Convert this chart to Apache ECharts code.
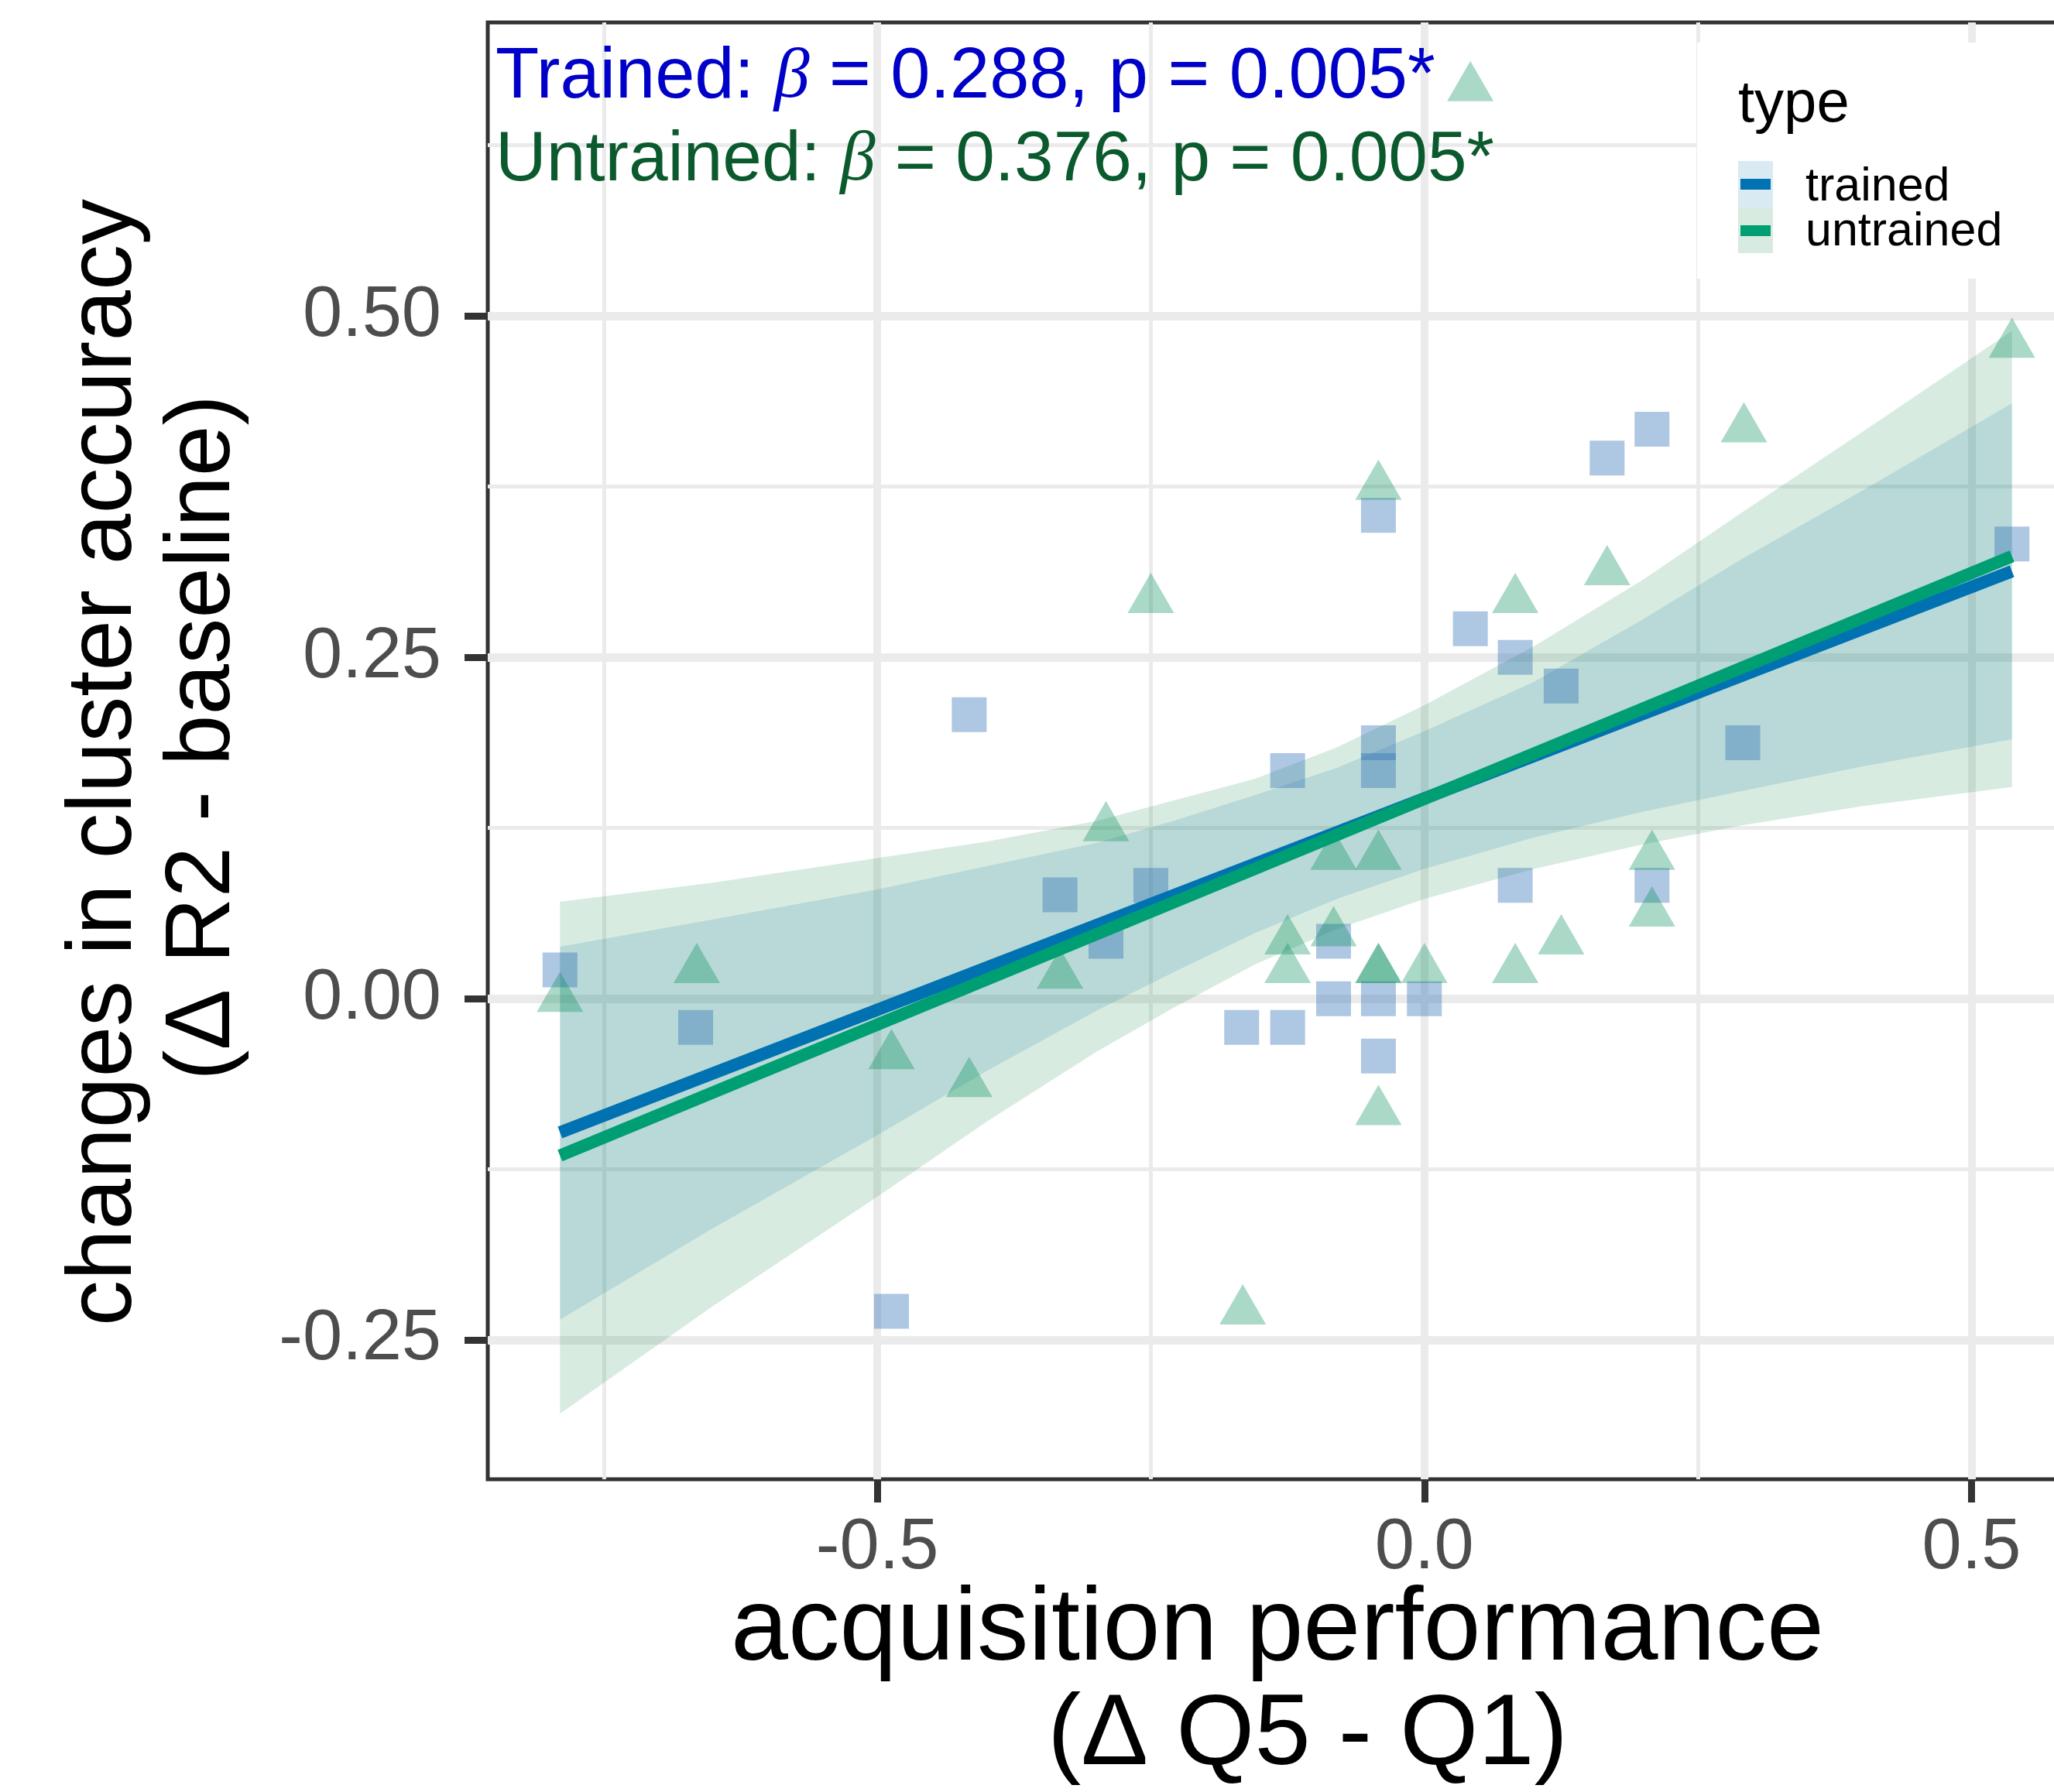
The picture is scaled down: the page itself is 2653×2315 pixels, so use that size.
<!DOCTYPE html>
<html>
<head>
<meta charset="utf-8">
<title>cluster accuracy vs acquisition performance</title>
<script src="https://cdn.jsdelivr.net/npm/echarts@6/dist/echarts.min.js"></script>
<style>
    html, body { margin: 0; padding: 0; background: #ffffff; }
    #chart_main { width: 2653px; height: 2315px; }
</style>
</head>
<body>
<div id="chart_main"></div>
<script>
// axis ranges and ticks
var xRange = [-0.856, 0.603];
var yRange = [-0.352, 0.715];
var xMajor = [-0.5, 0, 0.5];
var xMinor = [-0.75, -0.25, 0.25];
var yMajor = [-0.25, 0, 0.25, 0.5];
var yMinor = [-0.125, 0.125, 0.375, 0.625];

// trained (squares)
var trainedX = [-0.790, -0.666, -0.487, -0.416, -0.333, -0.291, -0.250, -0.167, -0.125, -0.125,
                -0.083, -0.083, -0.042, -0.042, -0.042, -0.042, -0.042, 0.000, 0.042, 0.083,
                0.083, 0.125, 0.167, 0.208, 0.208, 0.291, 0.537];
var trainedY = [0.021, -0.021, -0.229, 0.208, 0.076, 0.042, 0.083, -0.021, -0.021, 0.167,
                0.042, 0.000, 0.354, 0.1875, 0.167, 0.000, -0.042, 0.000, 0.271, 0.250,
                0.083, 0.229, 0.396, 0.417, 0.083, 0.1875, 0.333];

// untrained (triangles)
var untrainedX = [-0.790, -0.665, -0.487, -0.416, -0.333, -0.291, -0.250, -0.166, -0.125, -0.125,
                  -0.083, -0.083, -0.042, -0.042, -0.042, -0.042, -0.042, 0.000, 0.042, 0.083,
                  0.083, 0.125, 0.167, 0.208, 0.208, 0.292, 0.537];
var untrainedY = [0.000, 0.021, -0.042, -0.0625, 0.017, 0.125, 0.292, -0.229, 0.042, 0.021,
                  0.104, 0.048, 0.375, 0.104, 0.021, 0.021, -0.083, 0.021, 0.667, 0.292,
                  0.021, 0.042, 0.3125, 0.104, 0.0625, 0.417, 0.479];

// fitted lines (end points)
var fitX = [-0.790, 0.537];
var trainedFit = [-0.098, 0.313];
var untrainedFit = [-0.115, 0.324];

// confidence bands, read at these x positions
var bandX = [-0.790, -0.650, -0.500, -0.400, -0.300, -0.230, -0.155, -0.080, 0.000, 0.100, 0.200, 0.290, 0.400, 0.537];
var trainedLo = [-0.235, -0.168, -0.100, -0.053, -0.009, 0.019, 0.048, 0.073, 0.095, 0.118, 0.137, 0.152, 0.170, 0.190];
var trainedHi = [0.038, 0.058, 0.080, 0.097, 0.114, 0.130, 0.149, 0.169, 0.196, 0.232, 0.278, 0.322, 0.372, 0.436];
var untrainedLo = [-0.304, -0.225, -0.145, -0.090, -0.039, -0.007, 0.025, 0.051, 0.073, 0.095, 0.113, 0.127, 0.141, 0.155];
var untrainedHi = [0.071, 0.085, 0.103, 0.115, 0.130, 0.145, 0.161, 0.184, 0.215, 0.258, 0.307, 0.356, 0.415, 0.489];

var COL_TRAINED = '#0072B2';
var COL_UNTRAINED = '#009E73';
var FILL_TRAINED = 'rgba(0,110,170,0.145)';
var FILL_UNTRAINED = 'rgba(5,130,68,0.16)';
var FONT = 'Liberation Sans, Arial, Helvetica, sans-serif';

$init();

function $init() {
    var myChart = echarts.init(document.getElementById('chart_main'));

    function zip(xs, ys) {
        var out = [];
        for (var i = 0; i < xs.length; i++) out.push([xs[i], ys[i]]);
        return out;
    }

    // ribbon drawn as one polygon through the axis scales
    function band(name, lo, hi, fill) {
        var rows = [];
        for (var i = 0; i < bandX.length; i++) rows.push([bandX[i], lo[i], hi[i]]);
        return {
            name: name,
            type: 'custom',
            silent: true,
            data: rows,
            renderItem: function (params, api) {
                if (params.dataIndex !== 0) return null;
                var pts = [];
                for (var i = 0; i < bandX.length; i++) pts.push(api.coord([bandX[i], hi[i]]));
                for (var j = bandX.length - 1; j >= 0; j--) pts.push(api.coord([bandX[j], lo[j]]));
                return { type: 'polygon', shape: { points: pts }, style: { fill: fill } };
            }
        };
    }

    function fitLine(name, ys, color) {
        return {
            name: name,
            type: 'line',
            silent: true,
            showSymbol: false,
            data: zip(fitX, ys),
            lineStyle: { width: 16, color: color, cap: 'butt' }
        };
    }

    var gridLine = '#EBEBEB';

    var option = {
        animation: false,
        backgroundColor: '#ffffff',
        grid: {
            left: 630, top: 29, width: 2062, height: 1882,
            outerBoundsMode: 'none',
            show: true, borderColor: '#333333', borderWidth: 5, backgroundColor: '#ffffff'
        },
        xAxis: [{
            type: 'value', min: xRange[0], max: xRange[1], position: 'bottom',
            axisLine: { show: false, onZero: false },
            axisTick: { show: true, length: 30, customValues: xMajor, lineStyle: { color: '#333333', width: 9 } },
            axisLabel: {
                customValues: xMajor, fontSize: 92, color: '#4D4D4D', fontFamily: FONT, margin: 44,
                formatter: function (v) { return v.toFixed(1); }
            },
            splitLine: { show: true, lineStyle: { color: gridLine, width: 10 } }
        }, {
            type: 'value', min: xRange[0], max: xRange[1], position: 'bottom',
            axisLine: { show: false, onZero: false },
            axisTick: { show: false, customValues: xMinor },
            axisLabel: { show: false },
            splitLine: { show: true, lineStyle: { color: gridLine, width: 5 } }
        }],
        yAxis: [{
            type: 'value', min: yRange[0], max: yRange[1], position: 'left',
            axisLine: { show: false, onZero: false },
            axisTick: { show: true, length: 30, customValues: yMajor, lineStyle: { color: '#333333', width: 9 } },
            axisLabel: {
                customValues: yMajor, fontSize: 92, color: '#4D4D4D', fontFamily: FONT, margin: 60,
                formatter: function (v) { return v.toFixed(2); }
            },
            splitLine: { show: true, lineStyle: { color: gridLine, width: 11 } }
        }, {
            type: 'value', min: yRange[0], max: yRange[1], position: 'left',
            axisLine: { show: false, onZero: false },
            axisTick: { show: false, customValues: yMinor },
            axisLabel: { show: false },
            splitLine: { show: true, lineStyle: { color: gridLine, width: 5 } }
        }],
        series: [{
            name: 'trained',
            type: 'scatter',
            silent: true,
            symbol: 'rect',
            symbolSize: 45,
            data: zip(trainedX, trainedY),
            itemStyle: { color: 'rgba(44,110,180,0.48)' }
        }, {
            name: 'untrained',
            type: 'scatter',
            silent: true,
            symbol: 'triangle',
            symbolSize: [60, 52],
            symbolOffset: [0, -9],   // centre the triangle on its centroid
            data: zip(untrainedX, untrainedY),
            itemStyle: { color: 'rgba(0,140,87,0.41)' }
        },
            band('trained CI', trainedLo, trainedHi, FILL_TRAINED),
            fitLine('trained fit', trainedFit, COL_TRAINED),
            band('untrained CI', untrainedLo, untrainedHi, FILL_UNTRAINED),
            fitLine('untrained fit', untrainedFit, COL_UNTRAINED)
        ],
        graphic: [
            // stats annotation
            {
                type: 'text', x: 640, y: 101, z: 100,
                style: {
                    text: '{n|Trained: }{b|β}{n| = 0.288, p = 0.005*}',
                    verticalAlign: 'middle', align: 'left',
                    rich: {
                        n: { fontSize: 92, fontFamily: FONT, fill: '#0000C8' },
                        b: { fontSize: 92, fontFamily: 'Liberation Serif, serif', fontStyle: 'italic', fill: '#0000C8' }
                    }
                }
            },
            {
                type: 'text', x: 640, y: 208, z: 100,
                style: {
                    text: '{n|Untrained: }{b|β}{n| = 0.376, p = 0.005*}',
                    verticalAlign: 'middle', align: 'left',
                    rich: {
                        n: { fontSize: 91, fontFamily: FONT, fill: '#0B5A2E' },
                        b: { fontSize: 91, fontFamily: 'Liberation Serif, serif', fontStyle: 'italic', fill: '#0B5A2E' }
                    }
                }
            },
            // legend box
            { type: 'rect', z: 100, shape: { x: 2192, y: 55, width: 520, height: 305 }, style: { fill: '#ffffff' } },
            { type: 'text', z: 101, x: 2245, y: 136,
              style: { text: 'type', fontSize: 76, fontFamily: FONT, fill: '#000000', verticalAlign: 'middle' } },
            { type: 'rect', z: 101, shape: { x: 2245, y: 208, width: 45, height: 60 }, style: { fill: FILL_TRAINED } },
            { type: 'rect', z: 101, shape: { x: 2245, y: 268, width: 45, height: 59 }, style: { fill: FILL_UNTRAINED } },
            { type: 'line', z: 102, shape: { x1: 2248, y1: 238, x2: 2287, y2: 238 }, style: { stroke: COL_TRAINED, lineWidth: 14 } },
            { type: 'line', z: 102, shape: { x1: 2248, y1: 298, x2: 2287, y2: 298 }, style: { stroke: COL_UNTRAINED, lineWidth: 14 } },
            { type: 'text', z: 101, x: 2332, y: 242,
              style: { text: 'trained', fontSize: 61, fontFamily: FONT, fill: '#000000', verticalAlign: 'middle' } },
            { type: 'text', z: 101, x: 2332, y: 300,
              style: { text: 'untrained', fontSize: 61, fontFamily: FONT, fill: '#000000', verticalAlign: 'middle' } },
            // y axis title (two lines)
            { type: 'text', z: 100, x: 136, y: 985, rotation: Math.PI / 2,
              style: { text: 'changes in cluster accuracy', fontSize: 118, fontFamily: FONT, fill: '#000000', align: 'center', verticalAlign: 'middle' } },
            { type: 'text', z: 100, x: 263, y: 953, rotation: Math.PI / 2,
              style: { text: '(Δ R2 - baseline)', fontSize: 118, fontFamily: FONT, fill: '#000000', align: 'center', verticalAlign: 'middle' } },
            // x axis title (two lines)
            { type: 'text', z: 100, x: 1650, y: 2107,
              style: { text: 'acquisition performance', fontSize: 133, fontFamily: FONT, fill: '#000000', align: 'center', verticalAlign: 'middle' } },
            { type: 'text', z: 100, x: 1689, y: 2243,
              style: { text: '(Δ Q5 - Q1)', fontSize: 130, fontFamily: FONT, fill: '#000000', align: 'center', verticalAlign: 'middle' } }
        ]
    };

    myChart.setOption(option);
    window.addEventListener('resize', function () {
        myChart.resize();
    });
}
</script>
</body>
</html>
